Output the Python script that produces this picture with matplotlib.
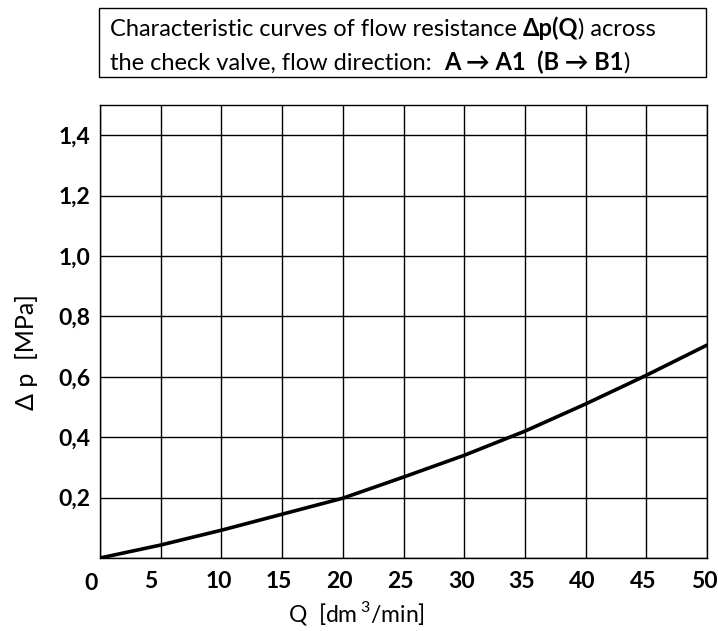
import matplotlib.pyplot as plt
import matplotlib.transforms as mtransforms
from matplotlib.patches import Rectangle

plt.rcParams['font.family'] = ['Lato', 'DejaVu Sans']
plt.rcParams['mathtext.fontset'] = 'custom'
plt.rcParams['mathtext.rm'] = 'Lato'

# curve
q = [0, 5, 10, 15, 20, 25, 30, 35, 40, 45, 50]
dp = [0.0, 0.043, 0.092, 0.145, 0.198, 0.268, 0.34, 0.42, 0.51, 0.605, 0.705]

x_ticks = [0, 5, 10, 15, 20, 25, 30, 35, 40, 45, 50]
y_ticks = [0.2, 0.4, 0.6, 0.8, 1.0, 1.2, 1.4]
y_labels = ['0,2', '0,4', '0,6', '0,8', '1,0', '1,2', '1,4']

line1 = [('Characteristic curves of flow resistance ', 'normal'), (u'\u0394p(Q', 'bold'), (') across', 'normal')]
line2 = [('the check valve, flow direction:  ', 'normal'), (u'A \u2192 A1  (B \u2192 B1', 'bold'), (')', 'normal')]

W, H = 718, 631
fig = plt.figure(figsize=(W / 100, H / 100), dpi=100)
ax = fig.add_axes([100 / W, 1 - 558 / H, (707 - 100) / W, (558 - 105) / H])

ax.plot(q, dp, color='black', lw=2.6, solid_capstyle='round')
ax.set_xlim(0, 50)
ax.set_ylim(0, 1.5)

ax.set_xticks(x_ticks)
ax.set_xticklabels([str(v) for v in x_ticks])
ax.set_yticks([0] + y_ticks)
ax.set_yticklabels([''] + y_labels)
ax.grid(True, color='black', lw=1.0)
ax.tick_params(length=0, labelsize=16.5)
ax.tick_params(axis='x', pad=9)
ax.tick_params(axis='y', pad=7)
for lab in ax.get_xticklabels() + ax.get_yticklabels():
    lab.set_fontweight('bold')

# small horizontal shifts of the x tick labels, as in the original
shifts = {0: (-9, -3), 1: (-10, 0)}
for i, lab in enumerate(ax.get_xticklabels()):
    dx, dy = shifts.get(i, (-3, 0))
    lab.set_transform(lab.get_transform() + mtransforms.ScaledTranslation(dx / 100, dy / 100, fig.dpi_scale_trans))

for s in ax.spines.values():
    s.set_linewidth(1.0)

fig.text(356 / W, 1 - 613 / H, r'Q  [dm$\,^{3}$/min]', fontsize=16.5, ha='center', va='center')
fig.text(27 / W, 1 - 352 / H, u'\u0394 p  [MPa]', fontsize=18, rotation=90, ha='center', va='center')

# title box
fig.patches.append(Rectangle((99 / W, 1 - 77 / H), (706 - 99) / W, (77 - 8) / H,
                             transform=fig.transFigure, fill=False, lw=1.0, edgecolor='black'))


def write_chain(pieces, x, y, size=17):
    prev = fig.text(x, y, pieces[0][0], fontsize=size, fontweight=pieces[0][1], va='baseline')
    for txt, w in pieces[1:]:
        prev = fig.add_artist(plt.Annotation(txt, xy=(1, 0), xycoords=prev, va='bottom', ha='left',
                                             fontsize=size, fontweight=w))
    return prev


write_chain(line1, 110 / W, 1 - 36 / H)
write_chain(line2, 110 / W, 1 - 70 / H)

fig.savefig('out.png', dpi=100)
